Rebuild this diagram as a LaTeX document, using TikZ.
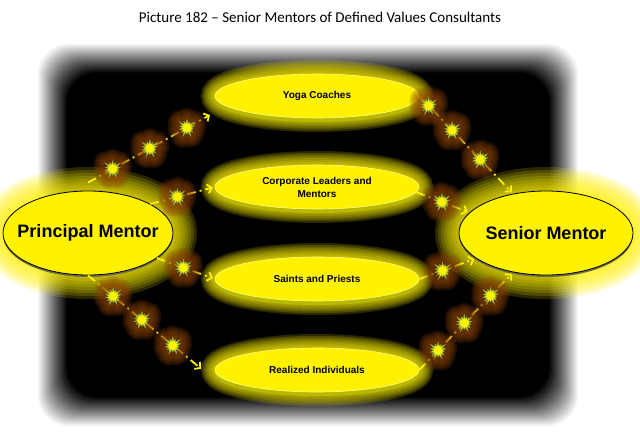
\documentclass[tikz,border=0pt]{standalone}
\usepackage{fontspec}
\setmainfont{Liberation Sans}
\newfontfamily\captionfont{Carlito}
\usetikzlibrary{arrows.meta,positioning,shapes.geometric,shapes.symbols,shadows}

\definecolor{glowbrown}{RGB}{140,66,6}
\definecolor{rimyellow}{RGB}{185,185,0}
\definecolor{burstedge}{RGB}{130,165,70}

\tikzset{
  ring/.style={preaction={draw=yellow, line width=#1, opacity=0.17}},
  star ring/.style={preaction={draw=glowbrown, line width=#1, line join=round, opacity=0.22}},
  mainoval/.style={ellipse, draw=black, line width=0.8pt, fill=yellow, inner sep=0pt,
    minimum width=170pt, minimum height=84pt,
    font=\bfseries\fontsize{18}{21}\selectfont,
    ring=48pt, ring=42pt, ring=36pt, ring=30pt, ring=24pt, ring=18pt, ring=12pt, ring=6pt,
    drop shadow={shadow xshift=0pt, shadow yshift=-2pt, fill=black!65!yellow, opacity=1}},
  stepoval/.style={ellipse, draw=yellow!45!white, line width=0.6pt, fill=yellow,
    minimum width=204pt, minimum height=44pt, inner sep=1pt, align=center,
    font=\bfseries\fontsize{10}{13}\selectfont,
    ring=28pt, ring=24.5pt, ring=21pt, ring=17.5pt, ring=14pt, ring=10.5pt, ring=7pt, ring=3.5pt,
    drop shadow={shadow xshift=0pt, shadow yshift=-4pt, fill=rimyellow, opacity=1}},
  burst/.style={starburst, starburst points=14, starburst point height=5pt,
    minimum size=19pt, inner sep=0pt, solid, fill=yellow, draw=burstedge, line width=0.6pt,
    star ring=24pt, star ring=20pt, star ring=16pt, star ring=12pt, star ring=8pt},
  link/.style={draw=yellow, line width=1.8pt, dash pattern=on 9pt off 4pt on 2pt off 4pt,
    -{Straight Barb[length=4pt,width=9pt]}, shorten >=2pt},
}

\begin{document}
\begin{tikzpicture}[x=1pt,y=-1pt]

  \useasboundingbox (0,0) rectangle (640,436);
  \fill[white] (0,0) rectangle (640,436);
%
  \foreach \k [evaluate=\k as \op using {1/(31-\k)}] in {1,...,30}
    \fill[black, opacity=\op, rounded corners=30pt]
      (37+\k,43+\k) rectangle (579-\k,427-\k);
%
  \node[font=\captionfont\fontsize{15}{18}\selectfont] (title) at (320,17)
    {Picture 182 – Senior Mentors of Defined Values Consultants};
%
  \node[mainoval] (principal) at (88,233) {\makebox[0pt]{Principal Mentor}};
  \node[mainoval, minimum width=174pt] (senior) at (546,233) {\makebox[0pt]{Senior Mentor}};
%
  \node[stepoval] (yoga)      at (317,96)  {Yoga Coaches};
  \node[stepoval] (corporate) at (317,187) {Corporate Leaders and\\Mentors};
  \node[stepoval] (saints)    at (317,279) {Saints and Priests};
  \node[stepoval] (realized)  at (317,370) {Realized Individuals};
%
  \draw[link] ([yshift=8pt]principal.north)
    -- node[burst,pos=0.2] (b1a) {} node[burst,pos=0.5] (b1b) {} node[burst,pos=0.8] (b1c) {}
    ([xshift=-3pt,yshift=-18pt]yoga.west);
  \draw[link] (principal.25) -- node[burst,pos=0.42] (b2a) {} (corporate.west);
  \draw[link] (principal.-20) -- node[burst,pos=0.46] (b3a) {} (saints.west);
  \draw[link] (principal.south)
    -- node[burst,pos=0.22] (b4a) {} node[burst,pos=0.47] (b4b) {} node[burst,pos=0.74] (b4c) {}
    ([xshift=-12pt]realized.west);
%
  \draw[link] (yoga.east)
    -- node[burst,pos=0.1] (b5a) {} node[burst,pos=0.35] (b5b) {} node[burst,pos=0.65] (b5c) {}
    (senior.130);
  \draw[link] (corporate.-3) -- node[burst,pos=0.48] (b6a) {} (senior.165);
  \draw[link] (saints.east) -- node[burst,pos=0.41] (b7a) {} (senior.200);
  \draw[link] (realized.east)
    -- node[burst,pos=0.2] (b8a) {} node[burst,pos=0.48] (b8b) {} node[burst,pos=0.76] (b8c) {}
    (senior.230);

\end{tikzpicture}
\end{document}
